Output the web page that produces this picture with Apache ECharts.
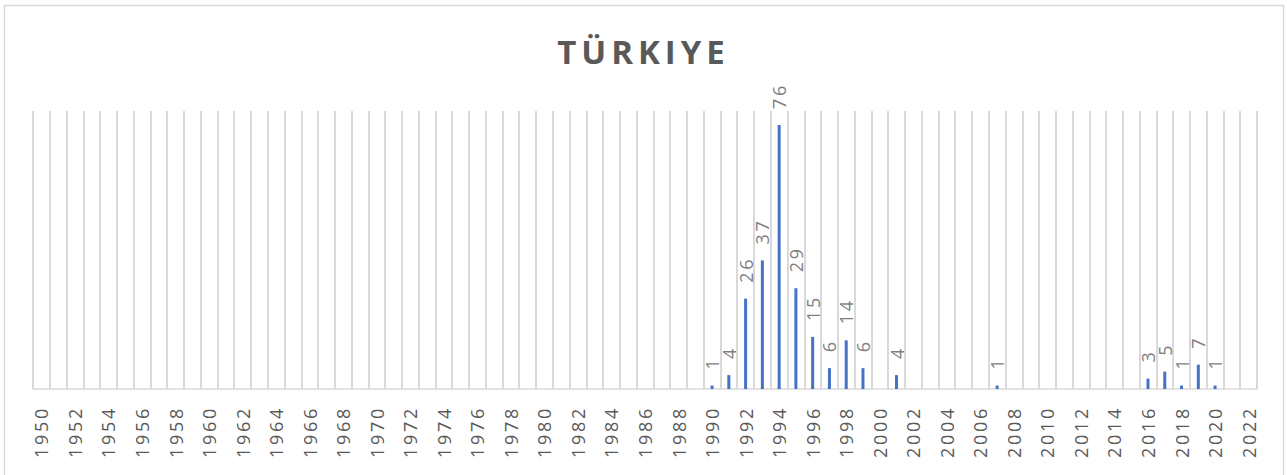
<!DOCTYPE html>
<html>
<head>
<meta charset="utf-8">
<script src="https://cdn.jsdelivr.net/npm/echarts@6/dist/echarts.min.js"></script>
<style>
  html, body { margin: 0; padding: 0; background: #fff; }
  #chart { width: 1287px; height: 475px; }
  /* Excel-style spaced letters */
  #chart text { letter-spacing: 0.15em; }
</style>
</head>
<body>
<div id="chart"></div>
<script>
// years 1950..2022
const years = []
for (let y = 1950; y <= 2022; y++) years.push(String(y))

// values (years without a bar are empty)
const valueYears = ['1990', '1991', '1992', '1993', '1994', '1995', '1996', '1997', '1998', '1999', '2001', '2007', '2016', '2017', '2018', '2019', '2020']
const valueCounts = [1, 4, 26, 37, 76, 29, 15, 6, 14, 6, 4, 1, 3, 5, 1, 7, 1]

const seriesData = years.map(y => {
    const i = valueYears.indexOf(y)
    return i >= 0 ? valueCounts[i] : null
})

const chart = echarts.init(document.getElementById('chart'), null, { renderer: 'svg' })
chart.setOption({
    animation: false,
    textStyle: { fontFamily: 'Open Sans' },
    title: {
        text: 'TÜRKIYE',
        left: 'center',
        top: 30,
        textStyle: {
            fontFamily: 'Open Sans',
            fontSize: 33,
            fontWeight: 'bold',
            color: '#595959'
        }
    },
    graphic: [{
        type: 'rect',
        shape: { x: 4.5, y: 5.5, width: 1279, height: 480 },
        style: { fill: 'none', stroke: '#d9d9d9', lineWidth: 1.5 },
        silent: true
    }],
    grid: {
        left: 33,
        right: 30,
        top: 111,
        bottom: 86
    },
    xAxis: {
        type: 'category',
        data: years,
        boundaryGap: true,
        axisLine: { lineStyle: { color: '#d9d9d9', width: 1.5 } },
        axisTick: { show: false },
        splitLine: {
            show: true,
            interval: 0,
            lineStyle: { color: '#d9d9d9', width: 2 }
        },
        axisLabel: {
            interval: 1,
            rotate: 90,
            margin: 17,
            fontSize: 18,
            color: '#595959'
        }
    },
    yAxis: {
        type: 'value',
        min: 0,
        max: 80,
        show: false,
        splitLine: { show: false }
    },
    series: [{
        type: 'bar',
        data: seriesData,
        barWidth: 3,
        itemStyle: { color: '#4472c4' },
        label: {
            show: true,
            position: 'top',
            distance: 16,
            rotate: 90,
            align: 'left',
            verticalAlign: 'middle',
            fontSize: 18,
            color: '#7f7f7f'
        }
    }]
})
</script>
</body>
</html>
